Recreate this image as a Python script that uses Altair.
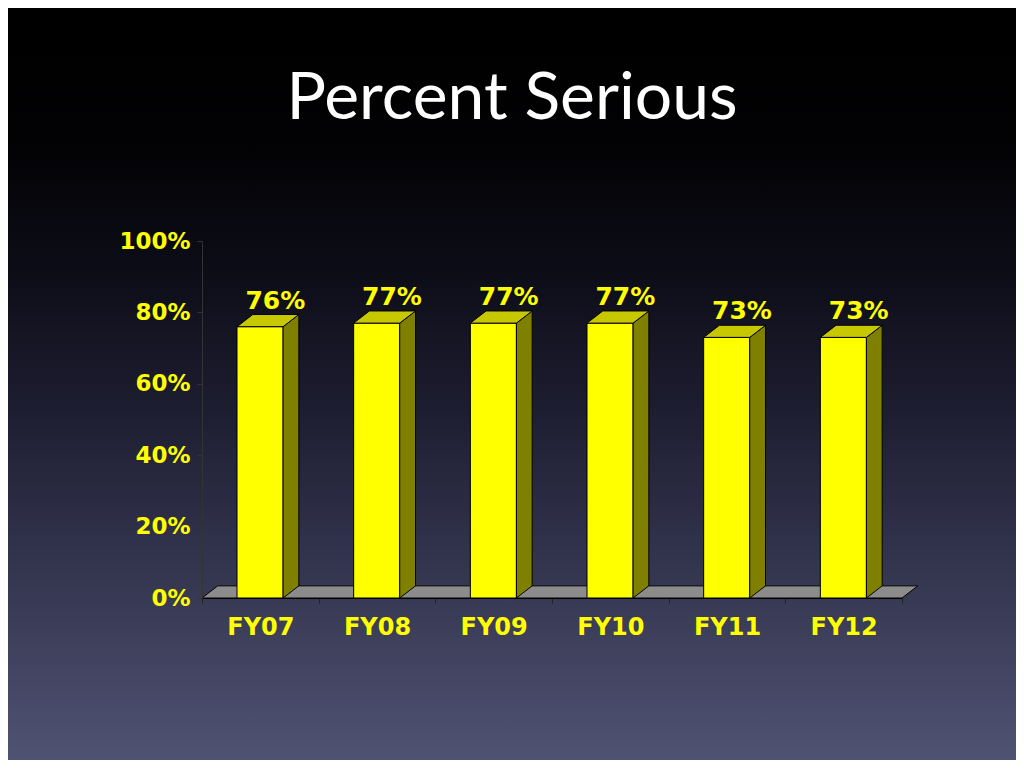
import altair as alt
import pandas as pd

# ---- data ----
categories = ["FY07", "FY08", "FY09", "FY10", "FY11", "FY12"]
values = [76, 77, 77, 77, 73, 73]
y_ticks = [0, 20, 40, 60, 80, 100]
title_text = "Percent Serious"

# ---- style / geometry ----
BAR_L, BAR_R = 0.30, 0.695      # front face inside each category slot
DX, DY = 0.135, 3.4             # 3D depth (x units, y percent)
PLOT_W, PLOT_H = 700, 357
PAD = {"left": 194, "top": 233, "right": 114, "bottom": 162}
YELLOW = "#ffff00"
n = len(categories)

front = pd.DataFrame({
    "cat": categories,
    "v": values,
    "x0": [i + BAR_L for i in range(n)],
    "x1": [i + BAR_R for i in range(n)],
    "xc": [i + 0.5 for i in range(n)],
    "base": [0] * n,
    "lab": [f"{v}%" for v in values],
})

side_rows, top_rows = [], []
for i, (c, v) in enumerate(zip(categories, values)):
    side_rows.append({"cat": c, "x": i + BAR_R, "y": v, "y2": 0})
    side_rows.append({"cat": c, "x": i + BAR_R + DX, "y": v + DY, "y2": DY})
    top_rows.append({"cat": c, "y": v, "x": i + BAR_L, "x2": i + BAR_R})
    top_rows.append({"cat": c, "y": v + DY, "x": i + BAR_L + DX, "x2": i + BAR_R + DX})
side = pd.DataFrame(side_rows)
top = pd.DataFrame(top_rows)
floor = pd.DataFrame({"y": [0, DY], "x": [0, DX], "x2": [n, n + DX]})

xscale = alt.Scale(domain=[0, n], nice=False, zero=False)
yscale = alt.Scale(domain=[0, 100], nice=False)

label_expr = "datum.value < %d ? %s[datum.value] : ''" % (n, str(categories))
x_axis = alt.Axis(values=list(range(n + 1)), labelExpr=label_expr,
                  labelOffset=PLOT_W / n / 2, labelFlush=False, labelOverlap=False,
                  labelColor=YELLOW, labelFont="DejaVu Sans", labelFontWeight="bold",
                  labelFontSize=24, labelPadding=12, tickSize=5, tickColor="#222222",
                  domainColor="#000000", grid=False, title=None, zindex=1)
y_axis = alt.Axis(values=y_ticks, labelExpr="datum.value + '%'",
                  labelColor=YELLOW, labelFont="DejaVu Sans", labelFontWeight="bold",
                  labelFontSize=23, labelPadding=7, tickSize=5, tickColor="#333333",
                  domainColor="#333333", grid=False, labelFlush=False, title=None, zindex=1)

gradient = alt.LinearGradient(
    gradient="linear", x1=0, y1=0, x2=0, y2=1,
    stops=[
        alt.GradientStop(color="#000000", offset=0.0),
        alt.GradientStop(color="#020204", offset=0.18),
        alt.GradientStop(color="#0d0d18", offset=0.35),
        alt.GradientStop(color="#1c1c2f", offset=0.52),
        alt.GradientStop(color="#2f3049", offset=0.70),
        alt.GradientStop(color="#3f415d", offset=0.85),
        alt.GradientStop(color="#4f5372", offset=1.0),
    ],
)

bg = alt.Chart(pd.DataFrame({"k": [0]})).mark_rect(fill=gradient).encode(
    x=alt.value(-PAD["left"]), x2=alt.value(PLOT_W + PAD["right"]),
    y=alt.value(-PAD["top"]), y2=alt.value(PLOT_H + PAD["bottom"]),
)

floor_l = alt.Chart(floor).mark_area(orient="horizontal", fill="#8c8c8c", stroke="#000000", strokeWidth=1).encode(
    y=alt.Y("y:Q", scale=yscale, axis=y_axis),
    x=alt.X("x:Q", scale=xscale, axis=x_axis),
    x2="x2:Q",
)

front_l = alt.Chart(front).mark_rect(fill=YELLOW, stroke="#000000", strokeWidth=1).encode(
    x=alt.X("x0:Q", scale=xscale, axis=x_axis),
    x2="x1:Q",
    y=alt.Y("v:Q", scale=yscale, axis=y_axis),
    y2="base:Q",
)

side_l = alt.Chart(side).mark_area(orient="vertical", fill="#808000", stroke="#000000", strokeWidth=1).encode(
    x=alt.X("x:Q", scale=xscale, axis=x_axis),
    y=alt.Y("y:Q", scale=yscale, axis=y_axis),
    y2="y2:Q",
    detail="cat:N",
)

top_l = alt.Chart(top).mark_area(orient="horizontal", fill="#c8c800", stroke="#000000", strokeWidth=1).encode(
    y=alt.Y("y:Q", scale=yscale, axis=y_axis),
    x=alt.X("x:Q", scale=xscale, axis=x_axis),
    x2="x2:Q",
    detail="cat:N",
)

text_l = alt.Chart(front).mark_text(font="DejaVu Sans", fontWeight="bold", fontSize=25,
                                     color=YELLOW, dx=15, dy=-18, baseline="alphabetic").encode(
    x=alt.X("xc:Q", scale=xscale, axis=x_axis),
    y=alt.Y("v:Q", scale=yscale, axis=y_axis),
    text="lab:N",
)

chart = alt.layer(bg, floor_l, front_l, side_l, top_l, text_l).properties(
    width=PLOT_W, height=PLOT_H,
    padding=PAD,
    autosize=alt.AutoSizeParams(type="none"),
    title=alt.TitleParams(title_text, font="Lato", fontSize=66, fontWeight="normal",
                          color="#ffffff", anchor="middle", frame="group",
                          baseline="alphabetic", offset=0, dx=-40, dy=177),
    background="#000000",
).configure_view(stroke=None)

chart.save("out.html", embed_options={"renderer": "svg", "actions": False})
